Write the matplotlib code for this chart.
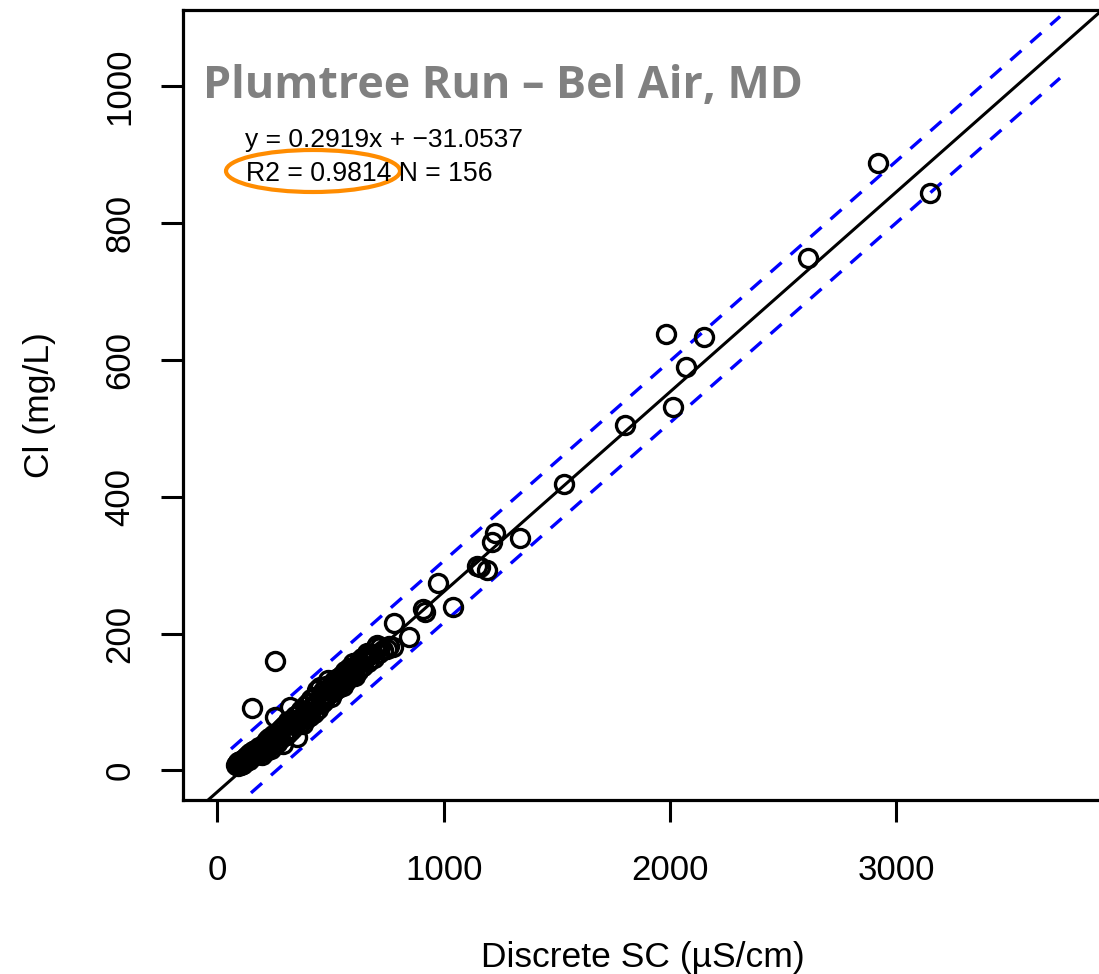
import matplotlib
matplotlib.use("Agg")
import matplotlib.pyplot as plt
from matplotlib.patches import Ellipse
import numpy as np

# ---- data ----
sc_outer = [3150, 2920, 2611, 1983, 2151, 2071, 2014, 1802, 1532, 1337, 1227, 1214,
            1192, 1160, 1147, 1041, 975, 908, 917, 846, 780, 254, 153]
cl_outer = [843.6, 887.6, 748.8, 637.8, 633.4, 589.6, 531.2, 504.9, 418.7, 339.9, 347.2, 334.0,
            293.1, 297.5, 298.9, 239.0, 274.1, 236.2, 231.8, 195.3, 215.7, 160.2, 91.6]

sc_low = [82, 86, 90, 92, 95, 98, 100, 104, 108, 110, 112, 115, 120, 124, 128, 132, 136,
          140, 142, 145, 150, 155, 160, 165, 170]
cl_low = [8, 10, 6, 12, 9, 14, 11, 8, 13, 12, 16, 10, 18, 14, 20, 17, 22,
          15, 18, 25, 20, 28, 24, 30, 22]

sc_mid1 = [175, 180, 185, 190, 196, 200, 205, 210, 215, 220, 225, 230, 235, 240, 245,
           250, 254, 260, 265, 270, 275, 280, 289, 290, 295, 300, 305, 310, 315, 320]
cl_mid1 = [28, 24, 34, 30, 22, 36, 30, 40, 28, 44, 36, 48, 32, 44, 52,
           38, 78, 50, 40, 58, 46, 60, 38, 64, 50, 66, 52, 72, 56, 92]

sc_mid2 = [330, 335, 340, 345, 351, 355, 360, 365, 370, 375, 380, 385, 390, 395, 400,
           405, 410, 415, 420, 425, 430, 435, 440, 445, 453, 455, 460, 465, 470, 475,
           480, 485, 489, 495, 500]
cl_mid2 = [60, 74, 66, 80, 49, 72, 84, 70, 88, 78, 68, 94, 82, 76, 98,
           86, 80, 104, 92, 84, 108, 96, 118, 90, 122, 106, 98, 116, 102, 110,
           124, 112, 132, 120, 108]

sc_mid3 = [505, 510, 515, 520, 525, 530, 535, 540, 545, 550, 555, 560, 565, 570, 575,
           580, 585, 590, 595, 599, 605, 610, 615, 620, 625, 630, 640, 645, 650, 655,
           661, 665, 670, 680, 690, 700, 705, 712, 720, 730, 748, 760, 775]
cl_mid3 = [122, 114, 130, 118, 134, 126, 120, 136, 128, 140, 124, 134, 146, 130, 140,
           150, 136, 146, 140, 157, 150, 138, 154, 146, 160, 150, 164, 152, 160, 166,
           172, 158, 168, 170, 164, 180, 183, 172, 180, 176, 177, 182, 180]

sc = np.array(sc_low + sc_mid1 + sc_mid2 + sc_mid3 + sc_outer, dtype=float)
cl = np.array(cl_low + cl_mid1 + cl_mid2 + cl_mid3 + cl_outer, dtype=float)

slope = 0.2919
intercept = -31.0537
pi_half = 45.0
pi_x = [60, 3725]

x_ticks = [0, 1000, 2000, 3000]
y_ticks = [0, 200, 400, 600, 800, 1000]

title = "Plumtree Run \u2013 Bel Air, MD"
eq_text = "y = 0.2919x + \u221231.0537"
r2_text = "R2 = 0.9814"
n_text = "N = 156"

# ---- figure ----
W, H = 1099, 974
fig = plt.figure(figsize=(W / 100, H / 100), dpi=100)
fig.patch.set_facecolor("white")

ax_l, ax_r, ax_t, ax_b = 183.3, 1100.5, 10, 800
ax = fig.add_axes([ax_l / W, (H - ax_b) / H, (ax_r - ax_l) / W, (ax_b - ax_t) / H])

xpx = 0.2262
ypx = 0.6847
x0 = -151
y0 = -43.1
ax.set_xlim(x0, x0 + (ax_r - ax_l) / xpx)
ax.set_ylim(y0, y0 + (ax_b - ax_t) / ypx)

rfont = "Liberation Sans"

ax.plot(sc, cl, linestyle="none", marker="o", markersize=13, markerfacecolor="none",
        markeredgecolor="black", markeredgewidth=2.4, zorder=3)

ax.axline((0, intercept), slope=slope, color="black", lw=2.2, zorder=2)
px = np.array(pi_x, dtype=float)
for s in (1, -1):
    ax.plot(px, slope * px + intercept + s * pi_half, color="#0000FF", lw=2.4,
            dashes=(4.4, 3.6), zorder=2)

for sp in ax.spines.values():
    sp.set_linewidth(2.3)

ax.set_xticks(x_ticks)
ax.set_yticks(y_ticks)
ax.set_xticklabels([str(v) for v in x_ticks], fontsize=25, family=rfont)
ax.set_yticklabels([str(v) for v in y_ticks], fontsize=25, family=rfont,
                   rotation=90, va="center")
ax.tick_params(axis="both", direction="out", length=15.8, width=2.2)
ax.tick_params(axis="x", pad=23)
ax.tick_params(axis="y", pad=18)

fig.text(643 / W, 1 - 967 / H, "Discrete SC (\u00b5S/cm)", fontsize=25.5, family=rfont,
         ha="center", va="baseline")
fig.text(40 / W, 1 - 405 / H, "Cl (mg/L)", fontsize=25.5, family=rfont,
         ha="center", va="center", rotation=90)

fig.text(203 / W, 1 - 98 / H, title, fontsize=32.3, family="Open Sans", fontweight="bold",
         color="#808080", ha="left", va="baseline")
fig.text(245 / W, 1 - 147 / H, eq_text, fontsize=19, family=rfont,
         ha="left", va="baseline")
fig.text(246 / W, 1 - 181 / H, r2_text + " " + n_text, fontsize=19.2, family=rfont,
         ha="left", va="baseline")

ell = Ellipse((313 / W, 1 - 171 / H), 174 / W, 42 / H, transform=fig.transFigure,
              fill=False, edgecolor="#FF8C00", lw=3.0)
fig.add_artist(ell)

fig.savefig("out.png", dpi=100)
